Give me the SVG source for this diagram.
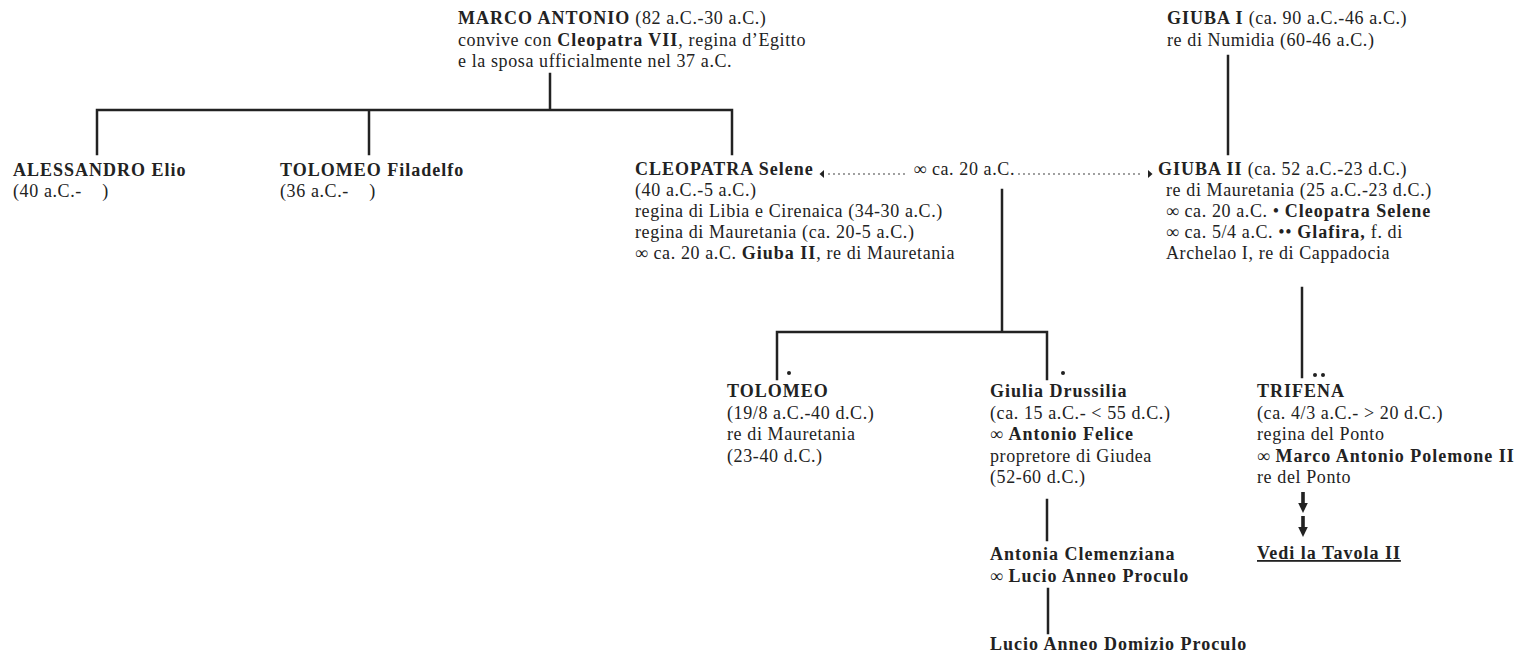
<svg xmlns="http://www.w3.org/2000/svg" width="1523" height="657" viewBox="0 0 1523 657">
  <style>
    text { font-family: "Liberation Serif", "Times New Roman", serif; font-size: 18px; letter-spacing: 0.6px; fill: #222; }
    .b { font-weight: bold; letter-spacing: 1px; }
    .ln { stroke: #222; stroke-width: 2.5; fill: none; stroke-linecap: square; }
    .dots { stroke: #222; stroke-width: 1.6; fill: none; stroke-linecap: round; stroke-dasharray: 0 5; }
    .mk { fill: #222; }
  </style>
  <defs>
    <g id="downArrow">
      <rect x="-1.8" y="0" width="3.6" height="12" class="mk"/>
      <polygon points="-4.8,11 4.8,11 0,21" class="mk"/>
    </g>
  </defs>
  <rect width="1523" height="657" fill="#fff"/>

  <!-- lineage connectors -->
  <g id="connectors">
    <path class="ln" d="M550 74 V110 M97 110 H732 M97 110 V154 M369 110 V154 M732 110 V154"/>
    <path class="ln" d="M1228 56 V154"/>
    <path class="dots" d="M829 174 H907 M1019 174 H1144"/>
    <polygon class="mk" points="824,170 824,178 819.5,174"/>
    <polygon class="mk" points="1148,170 1148,178 1152.5,174"/>
    <path class="ln" d="M1002 190 V332 M777 332 H1047 M777 332 V379 M1047 332 V379"/>
    <circle class="mk" cx="789" cy="373" r="2"/>
    <circle class="mk" cx="1063" cy="373" r="2"/>
    <path class="ln" d="M1302 288 V377"/>
    <circle class="mk" cx="1315" cy="375" r="2"/>
    <circle class="mk" cx="1323" cy="375" r="2"/>
    <path class="ln" d="M1047 500 V540 M1048 589 V633"/>
    <use href="#downArrow" x="1303" y="492"/>
    <use href="#downArrow" x="1303" y="516"/>
  </g>

  <g id="marco-antonio">
    <text x="458" y="24"><tspan class="b">MARCO ANTONIO</tspan> (82 a.C.-30 a.C.)</text>
    <text x="458" y="46">convive con <tspan class="b">Cleopatra VII</tspan>, regina d’Egitto</text>
    <text x="458" y="67">e la sposa ufficialmente nel 37 a.C.</text>
  </g>

  <g id="giuba-i">
    <text x="1167" y="24"><tspan class="b">GIUBA I</tspan> (ca. 90 a.C.-46 a.C.)</text>
    <text x="1167" y="46">re di Numidia (60-46 a.C.)</text>
  </g>

  <g id="alessandro-elio">
    <text x="13" y="176" class="b">ALESSANDRO Elio</text>
    <text x="13" y="197" xml:space="preserve">(40 a.C.-    )</text>
  </g>

  <g id="tolomeo-filadelfo">
    <text x="280" y="176" class="b">TOLOMEO Filadelfo</text>
    <text x="280" y="197" xml:space="preserve">(36 a.C.-    )</text>
  </g>

  <g id="cleopatra-selene">
    <text x="635" y="175" class="b">CLEOPATRA Selene</text>
    <text x="635" y="196">(40 a.C.-5 a.C.)</text>
    <text x="635" y="217">regina di Libia e Cirenaica (34-30 a.C.)</text>
    <text x="635" y="238">regina di Mauretania (ca. 20-5 a.C.)</text>
    <text x="635" y="259">∞ ca. 20 a.C. <tspan class="b">Giuba II</tspan>, re di Mauretania</text>
  </g>

  <g id="matrimonio">
    <text x="1015" y="175" text-anchor="end">∞ ca. 20 a.C.</text>
  </g>

  <g id="giuba-ii">
    <text x="1158" y="175"><tspan class="b">GIUBA II</tspan> (ca. 52 a.C.-23 d.C.)</text>
    <text x="1166" y="196">re di Mauretania (25 a.C.-23 d.C.)</text>
    <text x="1166" y="217">∞ ca. 20 a.C. • <tspan class="b">Cleopatra Selene</tspan></text>
    <text x="1166" y="238">∞ ca. 5/4 a.C. •• <tspan class="b">Glafira,</tspan> f. di</text>
    <text x="1166" y="259">Archelao I, re di Cappadocia</text>
  </g>

  <g id="tolomeo">
    <text x="727" y="397" class="b">TOLOMEO</text>
    <text x="727" y="419">(19/8 a.C.-40 d.C.)</text>
    <text x="727" y="440">re di Mauretania</text>
    <text x="727" y="462">(23-40 d.C.)</text>
  </g>

  <g id="giulia-drussilia">
    <text x="990" y="397" class="b">Giulia Drussilia</text>
    <text x="990" y="419">(ca. 15 a.C.- &lt; 55 d.C.)</text>
    <text x="990" y="440">∞ <tspan class="b">Antonio Felice</tspan></text>
    <text x="990" y="462">propretore di Giudea</text>
    <text x="990" y="483">(52-60 d.C.)</text>
  </g>

  <g id="trifena">
    <text x="1257" y="397" class="b">TRIFENA</text>
    <text x="1257" y="419">(ca. 4/3 a.C.- &gt; 20 d.C.)</text>
    <text x="1257" y="440">regina del Ponto</text>
    <text x="1257" y="462">∞ <tspan class="b">Marco Antonio Polemone II</tspan></text>
    <text x="1257" y="483">re del Ponto</text>
  </g>

  <g id="vedi-tavola">
    <text x="1257" y="559" class="b" text-decoration="underline">Vedi la Tavola II</text>
  </g>

  <g id="antonia-clemenziana">
    <text x="990" y="560" class="b">Antonia Clemenziana</text>
    <text x="990" y="582">∞ <tspan class="b">Lucio Anneo Proculo</tspan></text>
  </g>

  <g id="lucio-anneo-domizio">
    <text x="990" y="650" class="b">Lucio Anneo Domizio Proculo</text>
  </g>
</svg>
